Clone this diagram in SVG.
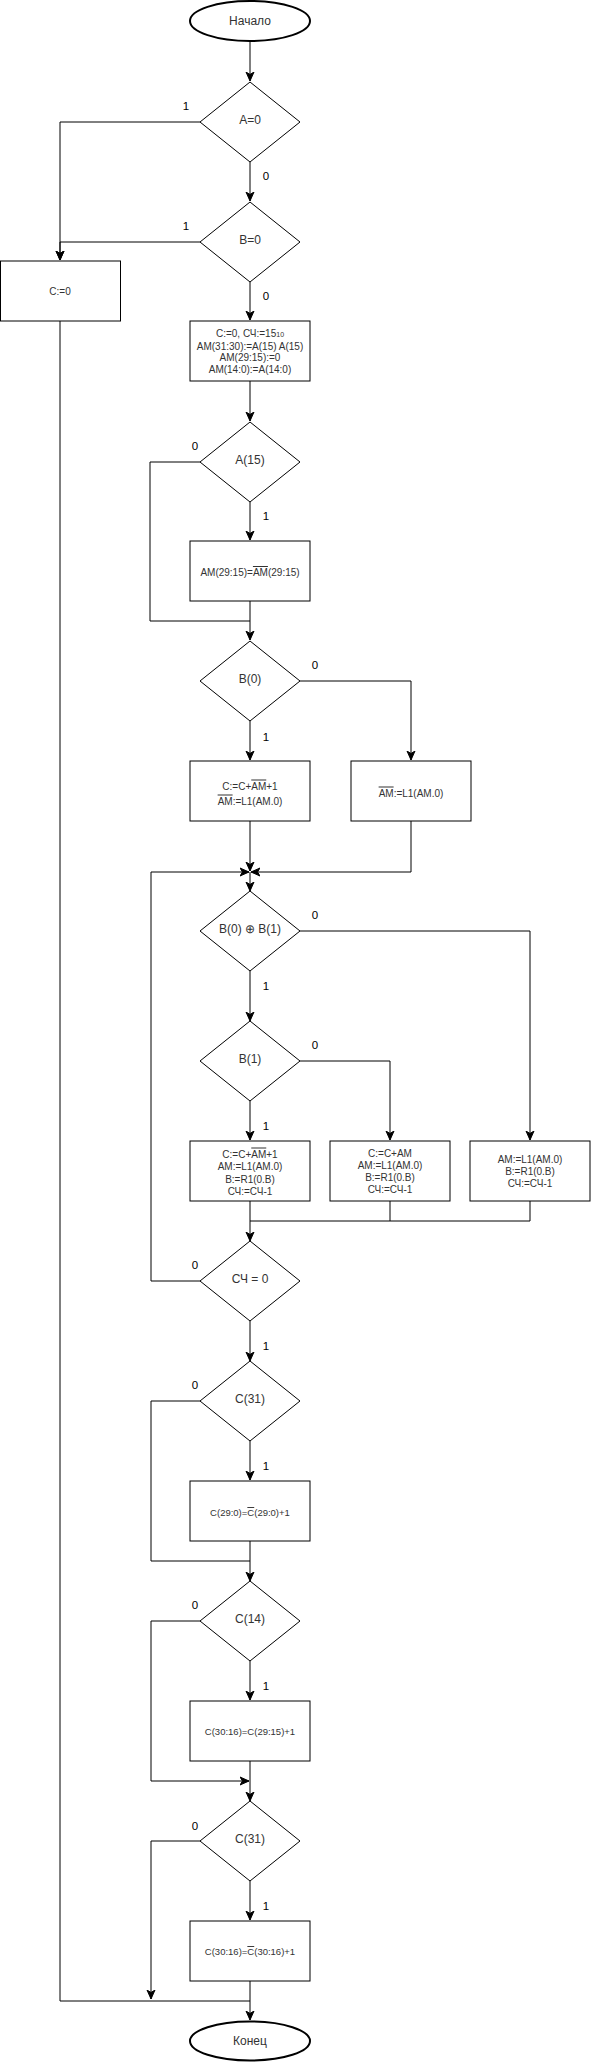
<svg xmlns="http://www.w3.org/2000/svg" width="591" height="2062" viewBox="0 0 591 2062">
<style>
.shape{fill:#fff;stroke:#000;stroke-width:1}
.term{fill:#fff;stroke:#000;stroke-width:2}
.edge{fill:none;stroke:#000;stroke-width:1}
.t{font-family:"Liberation Sans",Arial,sans-serif;fill:#333;text-anchor:middle}
.dt{font-size:12px}
.bt{font-size:10px}
.st{font-size:9.5px}
.ov{text-decoration:overline}
.lb{font-family:"Liberation Sans",Arial,sans-serif;fill:#000;font-size:11.5px;text-anchor:middle}
</style>
<defs>
<marker id="arr" markerUnits="userSpaceOnUse" markerWidth="10" markerHeight="10" viewBox="0 0 10 10" refX="9" refY="5" orient="auto">
<path d="M0,1 L9,5 L0,9 L2.5,5 Z" fill="#000" stroke="#000" stroke-width="1"/>
</marker>
</defs>
<rect width="591" height="2062" fill="#fff"/>

<g id="connectors">
<path class="edge" d="M250,41 V81" marker-end="url(#arr)"/>
<path class="edge" d="M200,122 H60 V260" marker-end="url(#arr)"/>
<path class="edge" d="M250,162 V201" marker-end="url(#arr)"/>
<path class="edge" d="M200,242 H60 V260" marker-end="url(#arr)"/>
<path class="edge" d="M250,282 V320" marker-end="url(#arr)"/>
<path class="edge" d="M60,321 V2001 H250"/>
<path class="edge" d="M250,381 V421" marker-end="url(#arr)"/>
<path class="edge" d="M200,462 H150 V621 H250"/>
<path class="edge" d="M250,502 V540" marker-end="url(#arr)"/>
<path class="edge" d="M250,601 V640" marker-end="url(#arr)"/>
<path class="edge" d="M300,681 H411 V760" marker-end="url(#arr)"/>
<path class="edge" d="M250,721 V760" marker-end="url(#arr)"/>
<path class="edge" d="M250,821 V871" marker-end="url(#arr)"/>
<path class="edge" d="M411,821 V872 H251" marker-end="url(#arr)"/>
<path class="edge" d="M200,1281 H151 V872 H249" marker-end="url(#arr)"/>
<path class="edge" d="M250,872 V891" marker-end="url(#arr)"/>
<path class="edge" d="M300,931 H530 V1140" marker-end="url(#arr)"/>
<path class="edge" d="M250,971 V1021" marker-end="url(#arr)"/>
<path class="edge" d="M300,1061 H390 V1140" marker-end="url(#arr)"/>
<path class="edge" d="M250,1101 V1140" marker-end="url(#arr)"/>
<path class="edge" d="M250,1201 V1241" marker-end="url(#arr)"/>
<path class="edge" d="M390,1201 V1221 H250"/>
<path class="edge" d="M530,1201 V1221 H390"/>
<path class="edge" d="M250,1321 V1361" marker-end="url(#arr)"/>
<path class="edge" d="M200,1401 H151 V1561 H250"/>
<path class="edge" d="M250,1441 V1480" marker-end="url(#arr)"/>
<path class="edge" d="M250,1541 V1581" marker-end="url(#arr)"/>
<path class="edge" d="M200,1621 H151 V1781 H249" marker-end="url(#arr)"/>
<path class="edge" d="M250,1661 V1700" marker-end="url(#arr)"/>
<path class="edge" d="M250,1761 V1801" marker-end="url(#arr)"/>
<path class="edge" d="M200,1841 H151 V1999" marker-end="url(#arr)"/>
<path class="edge" d="M250,1881 V1920" marker-end="url(#arr)"/>
<path class="edge" d="M250,1981 V2020" marker-end="url(#arr)"/>
<text class="lb" x="186" y="110">1</text>
<text class="lb" x="266" y="180">0</text>
<text class="lb" x="186" y="230">1</text>
<text class="lb" x="266" y="300">0</text>
<text class="lb" x="195" y="450">0</text>
<text class="lb" x="266" y="520">1</text>
<text class="lb" x="315" y="669">0</text>
<text class="lb" x="266" y="741">1</text>
<text class="lb" x="315" y="919">0</text>
<text class="lb" x="266" y="990">1</text>
<text class="lb" x="315" y="1049">0</text>
<text class="lb" x="266" y="1130">1</text>
<text class="lb" x="195" y="1269">0</text>
<text class="lb" x="266" y="1350">1</text>
<text class="lb" x="195" y="1389">0</text>
<text class="lb" x="266" y="1470">1</text>
<text class="lb" x="195" y="1609">0</text>
<text class="lb" x="266" y="1690">1</text>
<text class="lb" x="195" y="1830">0</text>
<text class="lb" x="266" y="1910">1</text>
</g>

<g id="start">
<ellipse class="term" cx="250" cy="21" rx="60" ry="20"/>
<text class="t dt" x="250" y="25">Начало</text>
</g>
<g id="d1">
<polygon class="shape" points="250,82 300,122 250,162 200,122"/>
<text class="t dt" x="250" y="124">A=0</text>
</g>
<g id="d2">
<polygon class="shape" points="250,202 300,242 250,282 200,242"/>
<text class="t dt" x="250" y="244">B=0</text>
</g>
<g id="c0">
<rect class="shape" x="0.5" y="261" width="120" height="60"/>
<text class="t bt" x="60" y="295">C:=0</text>
</g>
<g id="init">
<rect class="shape" x="190" y="321" width="120" height="60"/>
<text class="t bt" x="250" y="337">C:=0, СЧ:=15<tspan font-size="7">10</tspan></text>
<text class="t bt" x="250" y="350">AM(31:30):=A(15) A(15)</text>
<text class="t bt" x="250" y="361">AM(29:15):=0</text>
<text class="t bt" x="250" y="373">AM(14:0):=A(14:0)</text>
</g>
<g id="d3">
<polygon class="shape" points="250,422 300,462 250,502 200,462"/>
<text class="t dt" x="250" y="464">A(15)</text>
</g>
<g id="inv">
<rect class="shape" x="190" y="541" width="120" height="60"/>
<text class="t bt" x="250" y="576">AM(29:15)=<tspan class="ov">AM</tspan>(29:15)</text>
</g>
<g id="d4">
<polygon class="shape" points="250,641 300,681 250,721 200,681"/>
<text class="t dt" x="250" y="683">B(0)</text>
</g>
<g id="b01">
<rect class="shape" x="190" y="761" width="120" height="60"/>
<text class="t bt" x="250" y="789.5">C:=C+<tspan class="ov">AM</tspan>+1</text>
<text class="t bt" x="250" y="804.5"><tspan class="ov">AM</tspan>:=L1(AM.0)</text>
</g>
<g id="b00">
<rect class="shape" x="351" y="761" width="120" height="60"/>
<text class="t bt" x="411" y="796.5"><tspan class="ov">AM</tspan>:=L1(AM.0)</text>
</g>
<g id="d5">
<polygon class="shape" points="250,891 300,931 250,971 200,931"/>
<text class="t dt" x="250" y="933">B(0) ⊕ B(1)</text>
</g>
<g id="d6">
<polygon class="shape" points="250,1021 300,1061 250,1101 200,1061"/>
<text class="t dt" x="250" y="1063">B(1)</text>
</g>
<g id="m1">
<rect class="shape" x="190" y="1141" width="120" height="60"/>
<text class="t bt" x="250" y="1157.5">C:=C+<tspan class="ov">AM</tspan>+1</text>
<text class="t bt" x="250" y="1169.5">AM:=L1(AM.0)</text>
<text class="t bt" x="250" y="1182.5">B:=R1(0.B)</text>
<text class="t bt" x="250" y="1194.5">СЧ:=СЧ-1</text>
</g>
<g id="m2">
<rect class="shape" x="330" y="1141" width="120" height="60"/>
<text class="t bt" x="390" y="1156.5">C:=C+AM</text>
<text class="t bt" x="390" y="1168.5">AM:=L1(AM.0)</text>
<text class="t bt" x="390" y="1180.5">B:=R1(0.B)</text>
<text class="t bt" x="390" y="1192.5">СЧ:=СЧ-1</text>
</g>
<g id="m3">
<rect class="shape" x="470" y="1141" width="120" height="60"/>
<text class="t bt" x="530" y="1162.5">AM:=L1(AM.0)</text>
<text class="t bt" x="530" y="1174.5">B:=R1(0.B)</text>
<text class="t bt" x="530" y="1186.5">СЧ:=СЧ-1</text>
</g>
<g id="d7">
<polygon class="shape" points="250,1241 300,1281 250,1321 200,1281"/>
<text class="t dt" x="250" y="1283">СЧ = 0</text>
</g>
<g id="d8">
<polygon class="shape" points="250,1361 300,1401 250,1441 200,1401"/>
<text class="t dt" x="250" y="1403">C(31)</text>
</g>
<g id="c1">
<rect class="shape" x="190" y="1481" width="120" height="60"/>
<text class="t st" x="250" y="1516">C(29:0)=<tspan class="ov">C</tspan>(29:0)+1</text>
</g>
<g id="d9">
<polygon class="shape" points="250,1581 300,1621 250,1661 200,1621"/>
<text class="t dt" x="250" y="1623">C(14)</text>
</g>
<g id="c2">
<rect class="shape" x="190" y="1701" width="120" height="60"/>
<text class="t st" x="250" y="1735">C(30:16)=C(29:15)+1</text>
</g>
<g id="d10">
<polygon class="shape" points="250,1801 300,1841 250,1881 200,1841"/>
<text class="t dt" x="250" y="1843">C(31)</text>
</g>
<g id="c3">
<rect class="shape" x="190" y="1921" width="120" height="60"/>
<text class="t st" x="250" y="1955">C(30:16)=<tspan class="ov">C</tspan>(30:16)+1</text>
</g>
<g id="end">
<ellipse class="term" cx="250" cy="2041" rx="60" ry="19.5"/>
<text class="t dt" x="250" y="2045">Конец</text>
</g>
</svg>
